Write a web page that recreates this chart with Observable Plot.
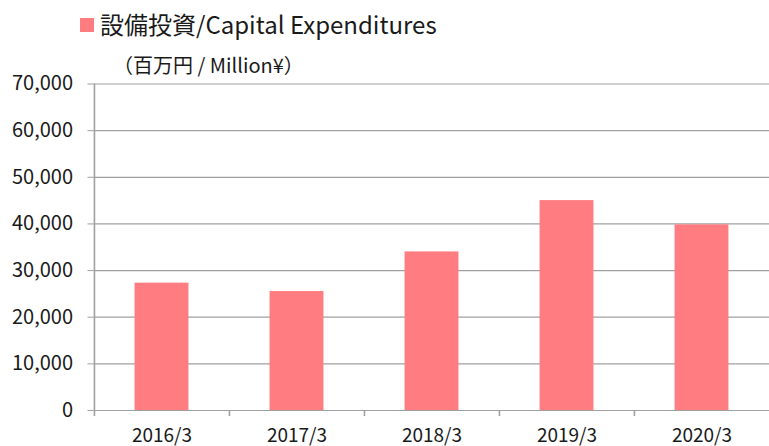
<!DOCTYPE html>
<html>
<head>
<meta charset="utf-8">
<script src="https://cdn.jsdelivr.net/npm/d3@7"></script>
<script src="https://cdn.jsdelivr.net/npm/@observablehq/plot@0.6"></script>
<style>
  html, body { margin: 0; padding: 0; background: #fff; }
  #wrap { position: relative; width: 769px; height: 446px; overflow: hidden; font-family: "Noto Sans CJK JP", "Noto Sans", sans-serif; color: #1a1a1a; }
  #swatch { position: absolute; left: 80px; top: 18px; width: 14px; height: 14px; background: #ff7c80; }
  #title { position: absolute; left: 100px; top: 7px; font-size: 24px; line-height: 34px; white-space: nowrap; }
  #subtitle { position: absolute; left: 113px; top: 51px; font-size: 20px; line-height: 28px; white-space: nowrap; }
  #chart { position: absolute; left: 0; top: 0; }
</style>
</head>
<body>
<div id="wrap">
  <div id="chart"></div>
  <div id="swatch"></div>
  <div id="title">設備投資/Capital Expenditures</div>
  <div id="subtitle">（百万円 / Million¥）</div>
</div>
<script>
const categories = ["2016/3", "2017/3", "2018/3", "2019/3", "2020/3"];
const capex = [27300, 25500, 34000, 45000, 39800];
const yTicks = [0, 10000, 20000, 30000, 40000, 50000, 60000, 70000];

const data = categories.map((c, i) => ({category: c, value: capex[i]}));

const W = 769, H = 446, ML = 93.5, MR = 0, MT = 83.5, MB = 36;
const bw = (W - ML - MR) / categories.length;
const barW = 54;
const inset = (bw - barW) / 2;
const gridColor = "#a0a0a0";
const below = -1300; // a few pixels below zero for the axis stubs

const chart = Plot.plot({
  width: W,
  height: H,
  marginLeft: ML,
  marginRight: MR,
  marginTop: MT,
  marginBottom: MB,
  style: {fontFamily: "'Noto Sans CJK JP', 'Noto Sans', sans-serif", fontSize: "20px", color: "#1a1a1a", background: "transparent"},
  x: {domain: categories, padding: 0, label: null},
  y: {domain: [0, 70000], label: null},
  marks: [
    Plot.ruleY(yTicks, {stroke: gridColor, strokeWidth: 1.2}),
    Plot.axisY(yTicks, {tickSize: 6, tickPadding: 15, tickFormat: d3.format(","), stroke: gridColor, fill: "#1a1a1a", fontSize: 20}),
    Plot.barY(data, {x: "category", y: "value", fill: "#ff7c80", insetLeft: inset, insetRight: inset}),
    Plot.ruleX([categories[0]], {dx: -bw / 2, y1: below, y2: 70000, stroke: gridColor, strokeWidth: 1.6}),
    Plot.ruleX(categories.slice(1), {dx: -bw / 2, y1: below, y2: 0, stroke: gridColor, strokeWidth: 1.6}),
    Plot.axisX({tickSize: 0, tickPadding: 18, fill: "#1a1a1a", fontSize: 19})
  ]
});
document.getElementById("chart").appendChild(chart);
</script>
</body>
</html>
